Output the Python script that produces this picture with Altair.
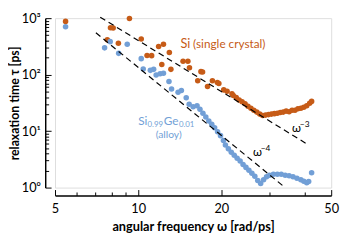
import altair as alt
import pandas as pd

# ---------------- data ----------------
# Si (single crystal)
si_freq = [5.46, 9.30, 7.94, 8.12, 7.73, 8.48, 10.26, 10.77, 11.19, 11.86, 12.35,
           12.97, 12.18, 13.14, 14.54, 15.14, 15.34, 16.88, 17.11, 16.43, 17.83,
           18.57, 19.35, 19.60, 20.41, 20.99, 21.86,
           22.10, 22.65, 23.21, 23.79, 24.38, 24.98, 25.60, 26.23, 26.88, 27.55,
           28.24, 28.94, 29.65, 30.39, 31.14, 31.91, 32.70, 33.52, 34.35, 35.20,
           36.07, 36.97, 37.88, 38.82, 39.79, 40.77, 41.78, 42.47]
si_tau = [877, 988, 679, 671, 416, 359, 428, 219, 217, 314, 345,
          247, 151, 124, 173, 173, 132, 113, 111, 77.8, 61.9,
          77.8, 72.6, 69.8, 53.7, 50.7, 45.7,
          42.7, 39.5, 35.7, 33.0, 30.5, 27.6, 25.4, 23.5, 21.7, 20.0,
          18.9, 19.2, 19.6, 20.0, 20.4, 20.8, 21.3, 21.7, 22.6, 22.1,
          23.5, 23.5, 24.9, 25.4, 26.5, 28.1, 31.1, 33.6]

# Si0.99Ge0.01 (alloy)
sige_freq = [5.46, 7.56, 7.92, 8.50, 9.13, 10.26, 10.43, 11.07, 11.38, 11.62, 12.01,
             12.35, 12.93, 13.21, 13.95, 14.34, 14.93,
             15.30, 15.81, 16.34, 16.74, 17.16, 17.58, 18.02, 18.47, 18.92, 19.39,
             19.87, 20.36, 20.70, 21.21, 21.74, 22.28, 22.83, 23.40, 23.98, 24.57,
             25.18, 25.81, 26.45, 27.10, 27.77, 28.46, 29.17, 29.89, 30.88, 31.91,
             32.97, 34.07, 35.20, 36.37, 37.57, 38.82, 39.79, 40.77, 41.44, 42.47]
sige_tau = [707, 298, 384, 238, 345, 192, 126, 119, 124, 98.8, 104,
            106, 75.6, 55.8, 48.8, 52.2, 39.0,
            29.9, 27.0, 28.1, 24.4, 20.8, 17.8, 15.1, 13.2, 11.5, 9.77,
            8.32, 6.82, 5.70, 4.85, 4.23, 3.75, 3.32, 2.95, 2.57, 2.28,
            2.02, 1.79, 1.59, 1.33, 1.18, 1.38, 1.56, 1.65, 1.72, 1.72,
            1.72, 1.65, 1.62, 1.56, 1.47, 1.38, 1.30, 1.22, 1.28, 1.83]

# power-law guide lines
w3_freq = [7.29, 40.5]
w3_tau = [1041, 6.07]
w4_freq = [7.03, 33.8]
w4_tau = [550, 1.03]

x_label_values = [5, 10, 20, 50]
x_tick_values = [5, 6, 7, 8, 9, 10, 20, 30, 40, 50]
y_label_values = [1, 10, 100, 1000]
y_tick_values = [1, 2, 3, 4, 5, 6, 7, 8, 9,
                 10, 20, 30, 40, 50, 60, 70, 80, 90,
                 100, 200, 300, 400, 500, 600, 700, 800, 900, 1000]

ORANGE = "#c65b17"
BLUE = "#729fd6"
FONT = "Lato"
W, H = 282, 173

# ---------------- tables ----------------
pts = pd.DataFrame({
    "w": si_freq + sige_freq,
    "tau": si_tau + sige_tau,
    "series": ["Si"] * len(si_freq) + ["SiGe"] * len(sige_freq),
})
guides = pd.DataFrame({
    "w": w3_freq + w4_freq,
    "tau": w3_tau + w4_tau,
    "line": ["w3", "w3", "w4", "w4"],
})

xs = alt.Scale(type="log", domain=[5, 50], nice=False)
ys = alt.Scale(type="log", domain=[1, 1000], nice=False)

y_expr = ("datum.value == 1000 ? '10\u00b3' : datum.value == 100 ? '10\u00b2' : "
          "datum.value == 10 ? '10\u00b9' : '10\u2070'")

x_main_axis = alt.Axis(orient="bottom", offset=8, values=x_label_values, ticks=False,
                       tickSize=0, grid=False, domainColor="black", domainWidth=1.5,
                       labelPadding=7, labelFontSize=13, labelColor="black",
                       labelFlush=False, labelOverlap=False, labelFont=FONT,
                       title="angular frequency \u03c9 [rad/ps]", titleFont=FONT,
                       titleFontSize=13, titleFontWeight="bold", titleColor="black",
                       titlePadding=6)
y_main_axis = alt.Axis(orient="left", offset=10, values=y_label_values, ticks=False,
                       tickSize=0, grid=False, domainColor="black", domainWidth=1.5,
                       labelPadding=5, labelFontSize=13, labelColor="black",
                       labelExpr=y_expr, labelFlush=False, labelOverlap=False,
                       labelFont=FONT,
                       title="relaxation time \u03c4 [ps]", titleFont=FONT,
                       titleFontSize=12.5, titleFontWeight="bold", titleColor="black",
                       titlePadding=0)

x_tick_axis = alt.Axis(orient="top", offset=-(H + 8), values=x_tick_values, labels=False,
                       domain=False, grid=False, ticks=True, tickColor="black", tickWidth=1,
                       tickSize={"condition": {"test": "indexof([5,10,20,50], datum.value) >= 0",
                                               "value": 6}, "value": 3.5},
                       title=None)
y_tick_axis = alt.Axis(orient="right", offset=-(W + 10), values=y_tick_values, labels=False,
                       domain=False, grid=False, ticks=True, tickColor="black", tickWidth=1,
                       tickSize={"condition": {"test": "indexof([1,10,100,1000], datum.value) >= 0",
                                               "value": 6}, "value": 3.5},
                       title=None)

points = alt.Chart(pts).mark_circle(size=32, opacity=1).encode(
    x=alt.X("w:Q", scale=xs, axis=x_main_axis),
    y=alt.Y("tau:Q", scale=ys, axis=y_main_axis),
    color=alt.Color("series:N", scale=alt.Scale(domain=["Si", "SiGe"], range=[ORANGE, BLUE]),
                    legend=None),
)

lines = alt.Chart(guides).mark_line(color="black", strokeDash=[6, 4], strokeWidth=1.2,
                                    clip=False).encode(
    x=alt.X("w:Q", scale=xs, axis=x_tick_axis),
    y=alt.Y("tau:Q", scale=ys, axis=y_tick_axis),
    detail="line:N",
)


def label(df, **kw):
    return alt.Chart(df).mark_text(font=FONT, **kw).encode(
        x=alt.X("w:Q", scale=xs, axis=None),
        y=alt.Y("tau:Q", scale=ys, axis=None),
        text="t:N",
    )


si_anchor = pd.DataFrame({"w": [14.22], "tau": [302], "t": ["Si"]})
si_sub = pd.DataFrame({"w": [14.22], "tau": [302], "t": ["(single crystal)"]})
sige_anchor = {"w": [10.01], "tau": [12.9]}
alloy_pos = pd.DataFrame({"w": [12.9], "tau": [7.6], "t": ["(alloy)"]})
w3_pos = {"w": [36.07], "tau": [9.77]}
w4_pos = {"w": [26.03], "tau": [3.60]}

texts = [
    label(si_anchor, align="left", baseline="alphabetic", fontSize=13, color=ORANGE),
    label(si_sub, align="left", baseline="alphabetic", fontSize=12, color=ORANGE, dx=13),
    label(pd.DataFrame({**sige_anchor, "t": ["Si"]}), align="left", baseline="alphabetic",
          fontSize=12, color=BLUE),
    label(pd.DataFrame({**sige_anchor, "t": ["0.99"]}), align="left", baseline="alphabetic",
          fontSize=8, color=BLUE, dx=9.5, dy=2.5),
    label(pd.DataFrame({**sige_anchor, "t": ["Ge"]}), align="left", baseline="alphabetic",
          fontSize=12, color=BLUE, dx=26),
    label(pd.DataFrame({**sige_anchor, "t": ["0.01"]}), align="left", baseline="alphabetic",
          fontSize=8, color=BLUE, dx=41.5, dy=2.5),
    label(alloy_pos, align="center", baseline="alphabetic", fontSize=10.5, color=BLUE),
    label(pd.DataFrame({**w3_pos, "t": ["\u03c9"]}), align="left", baseline="alphabetic",
          fontSize=12, color="black"),
    label(pd.DataFrame({**w3_pos, "t": ["\u22123"]}), align="left", baseline="alphabetic",
          fontSize=8.5, color="black", dx=8, dy=-5),
    label(pd.DataFrame({**w4_pos, "t": ["\u03c9"]}), align="left", baseline="alphabetic",
          fontSize=12, color="black"),
    label(pd.DataFrame({**w4_pos, "t": ["\u22124"]}), align="left", baseline="alphabetic",
          fontSize=8.5, color="black", dx=8, dy=-5),
]

chart = alt.layer(points, lines, *texts).resolve_axis(
    x="independent", y="independent"
).properties(
    width=W, height=H,
    autosize=alt.AutoSizeParams(type="none"),
    padding={"left": 48, "top": 8, "right": 10, "bottom": 45},
).configure_view(stroke=None).configure(font=FONT)

chart.save("out.html", embed_options={"renderer": "svg", "actions": False})
